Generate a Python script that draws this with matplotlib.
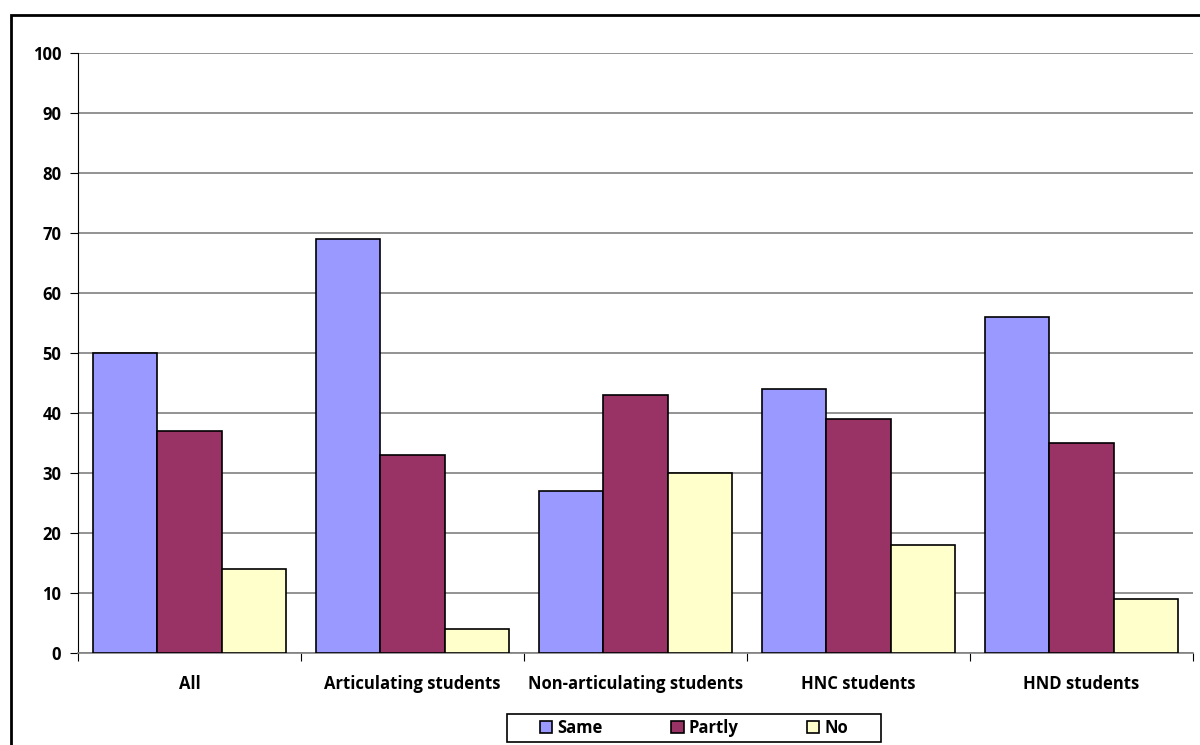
import numpy as np
import matplotlib.pyplot as plt
from matplotlib.patches import Rectangle

categories = ["All", "Articulating students", "Non-articulating students", "HNC students", "HND students"]
same = [50, 69, 27, 44, 56]
partly = [37, 33, 43, 39, 35]
no = [14, 4, 30, 18, 9]
series_names = ["Same", "Partly", "No"]
colors = ["#9999FF", "#993366", "#FFFFCC"]

plt.rcParams["font.family"] = ["Open Sans", "DejaVu Sans"]
plt.rcParams["font.weight"] = "bold"

W, H = 1200, 745
fig = plt.figure(figsize=(12, 7.45), dpi=100)
ax = fig.add_axes([78 / W, 1 - 653 / H, (1193 - 78) / W, 600 / H])

# outer chart frame
fig.patches.append(Rectangle((11 / W, -0.1), 1.2, 1 - 15 / H + 0.1, transform=fig.transFigure,
                             fill=False, edgecolor="black", linewidth=2))

x = np.arange(len(categories))
w = 0.287
for i, (vals, name, c) in enumerate(zip([same, partly, no], series_names, colors)):
    ax.bar(x + (i - 1) * w, vals, w, color=c, edgecolor="black", linewidth=1.2, label=name, zorder=3)

ax.set_xlim(-0.5, len(categories) - 0.5)
ax.set_ylim(0, 100)
ax.set_yticks(range(0, 101, 10))
ax.yaxis.grid(True, color="#808080", linewidth=1.2, zorder=0)
ax.set_axisbelow(True)

ax.set_xticks(np.arange(-0.5, len(categories), 1))
ax.set_xticklabels([])
ax.set_xticks(x, minor=True)
ax.set_xticklabels(categories, minor=True, fontsize=12, fontweight="bold")
ax.tick_params(axis="x", which="minor", length=0, pad=16)
ax.tick_params(axis="x", which="major", length=6, direction="out", color="black")
ax.tick_params(axis="y", length=6, direction="out", labelsize=12, pad=6)
for lab in ax.get_yticklabels():
    lab.set_fontweight("bold")

for s in ["top", "right"]:
    ax.spines[s].set_visible(False)
ax.spines["left"].set_color("black")
ax.spines["bottom"].set_color("#808080")
ax.spines["bottom"].set_linewidth(1.2)

leg = fig.legend(loc="center", bbox_to_anchor=(694 / W, 1 - 728 / H), ncol=3, frameon=False,
                 handlelength=0.75, handleheight=0.75,
                 columnspacing=4.1, handletextpad=0.3, borderpad=0.25, borderaxespad=0,
                 prop={"weight": "bold", "size": 12})
# legend box
fig.patches.append(Rectangle((507 / W, 1 - 742 / H), 374 / W, 28 / H, transform=fig.transFigure,
                             fill=False, edgecolor="black", linewidth=1.2))

fig.savefig("out.png", dpi=100)
